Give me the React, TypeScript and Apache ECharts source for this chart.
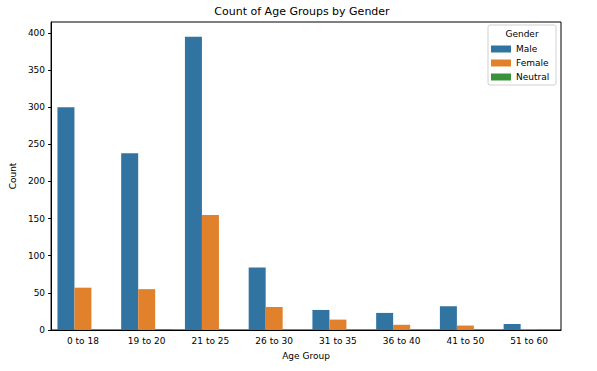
import React, { useEffect, useRef } from "react";
import * as echarts from "echarts";

const categories = ["0 to 18", "19 to 20", "21 to 25", "26 to 30", "31 to 35", "36 to 40", "41 to 50", "51 to 60"];
const maleValues = [300, 238, 395, 84, 27, 23, 32, 8];
const femaleValues = [57, 55, 155, 31, 14, 7, 6, 1];
const neutralValues = [0, 1, 0, 0, 0, 0, 0, 0];
const seriesNames = ["Male", "Female", "Neutral"];
const colors = ["#3274a1", "#e1812c", "#3a923a"];
const yMax = 414.75;

export default function App() {
  const ref = useRef<HTMLDivElement>(null);
  useEffect(() => {
    if (!ref.current) return;
    const chart = echarts.init(ref.current, null, { renderer: "svg" });
    const font = "DejaVu Sans";
    const dataSets = [maleValues, femaleValues, neutralValues];
    chart.setOption({
      animation: false,
      textStyle: { fontFamily: font },
      title: {
        text: "Count of Age Groups by Gender",
        left: 302,
        top: 6,
        padding: 0,
        textAlign: "center",
        textStyle: { fontFamily: font, fontSize: 11, fontWeight: "normal", color: "#000" },
      },
      grid: {
        left: 43,
        right: 36,
        top: 22,
        bottom: 41,
        show: true,
        borderColor: "#000",
        borderWidth: 1,
        backgroundColor: "transparent",
      },
      legend: {
        data: seriesNames,
        orient: "vertical",
        left: 491,
        top: 43,
        padding: 0,
        icon: "rect",
        itemWidth: 20,
        itemHeight: 7,
        itemGap: 2,
        z: 10,
        textStyle: { fontFamily: font, fontSize: 9, color: "#000", lineHeight: 12 },
      },
      graphic: [
        {
          type: "rect",
          z: 5,
          shape: { x: 488, y: 25, width: 68, height: 60, r: 2 },
          style: { fill: "rgba(255,255,255,0.8)", stroke: "#d0d0d0", lineWidth: 1 },
        },
        {
          type: "text",
          z: 6,
          x: 522,
          y: 34,
          style: {
            text: "Gender",
            fontFamily: font,
            fontSize: 9,
            fill: "#000",
            align: "center",
            verticalAlign: "middle",
          },
        },
      ],
      xAxis: {
        type: "category",
        data: categories,
        name: "Age Group",
        nameLocation: "middle",
        nameGap: 21,
        nameTextStyle: { fontFamily: font, fontSize: 9, color: "#000" },
        axisLine: { lineStyle: { color: "#000", width: 1 } },
        axisTick: { alignWithLabel: true, length: 3, lineStyle: { color: "#000" } },
        axisLabel: { fontFamily: font, fontSize: 9, color: "#000", margin: 6 },
        splitLine: { show: false },
      },
      yAxis: {
        type: "value",
        min: 0,
        max: yMax,
        interval: 50,
        name: "Count",
        nameLocation: "middle",
        nameGap: 31,
        nameTextStyle: { fontFamily: font, fontSize: 9, color: "#000" },
        axisLine: { show: true, lineStyle: { color: "#000", width: 1 } },
        axisTick: { show: true, length: 3, lineStyle: { color: "#000" } },
        axisLabel: {
          fontFamily: font,
          fontSize: 9,
          color: "#000",
          margin: 6,
          showMaxLabel: false,
          formatter: (v: number) => (v % 50 === 0 ? String(v) : ""),
        },
        splitLine: { show: false },
      },
      series: dataSets.map((d, i) => ({
        name: seriesNames[i],
        type: "bar",
        data: d,
        barGap: "0%",
        barCategoryGap: "20%",
        itemStyle: { color: colors[i] },
      })),
    });
    return () => chart.dispose();
  }, []);
  return (
    <div
      ref={ref}
      style={{ position: "fixed", left: 0, top: 0, width: 597, height: 371, background: "#fff" }}
    />
  );
}
